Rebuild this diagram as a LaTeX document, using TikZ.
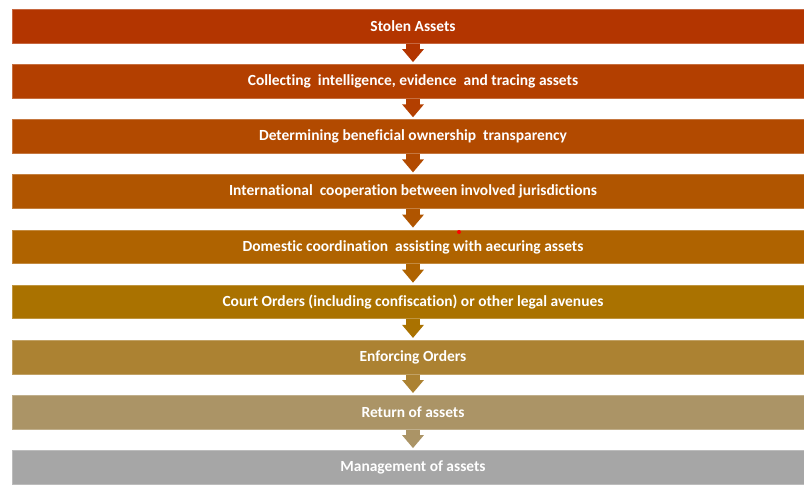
\documentclass[tikz,border=0pt]{standalone}
\usepackage{fontspec}
\setmainfont{Carlito}[Ligatures=NoCommon]
\usetikzlibrary{arrows.meta}
\definecolor{stufeA}{HTML}{B33500}
\definecolor{stufeB}{HTML}{B33F00}
\definecolor{stufeC}{HTML}{B24A00}
\definecolor{stufeD}{HTML}{B05500}
\definecolor{stufeE}{HTML}{AF6300}
\definecolor{stufeF}{HTML}{AA7200}
\definecolor{stufeG}{HTML}{AC8232}
\definecolor{stufeH}{HTML}{AB9466}
\definecolor{stufeI}{HTML}{A6A6A6}
\tikzset{
	balken/.style={fill=#1, draw=#1!75!white, line width=0.6pt, minimum width=16.04cm, minimum height=0.674cm, inner sep=0pt, text=white, font=\fontsize{8.8}{10}\selectfont\bfseries},
	pfeil/.style={draw=#1, line width=0.28cm, -{Triangle[width=0.42cm,length=0.26cm]}, shorten >=0.04cm}
}
\begin{document}
\begin{tikzpicture}[x=0.02cm,y=-0.02cm]
		\useasboundingbox (0,0) rectangle (804,486);
		\clip (0,0) rectangle (804,486);
		% Balken
		\node[balken=stufeA] (stolen) at (413,26.3) {Stolen Assets};
		\node[balken=stufeB] (intel) at (413,81.5) {Collecting\ \ intelligence,\ evidence\ \ and\ tracing\ assets};
		\node[balken=stufeC] (owner) at (413,136.7) {Determining\ beneficial\ ownership\ \ transparency};
		\node[balken=stufeD] (coop) at (413,191.8) {International\ \ cooperation\ between\ involved\ jurisdictions};
		\node[balken=stufeE] (domestic) at (413,247) {Domestic coordination\ \ assisting with aecuring\ assets};
		\node[balken=stufeF] (court) at (413,302.1) {Court Orders (including confiscation) or other\ legal avenues};
		\node[balken=stufeG] (enforce) at (413,357.3) {Enforcing\ Orders};
		\node[balken=stufeH] (return) at (413,412.4) {Return of assets};
		\node[balken=stufeI] (manage) at (413,467.5) {Management\ of assets};
		% Pfeile
		\draw[pfeil=stufeA] (stolen.south) -- (intel.north);
		\draw[pfeil=stufeB] (intel.south) -- (owner.north);
		\draw[pfeil=stufeC] (owner.south) -- (coop.north);
		\draw[pfeil=stufeD] (coop.south) -- (domestic.north);
		\draw[pfeil=stufeE] (domestic.south) -- (court.north);
		\draw[pfeil=stufeF] (court.south) -- (enforce.north);
		\draw[pfeil=stufeG] (enforce.south) -- (return.north);
		\draw[pfeil=stufeH] (return.south) -- (manage.north);
		% Punkt
		\fill[red] (459,232) circle (2);
	\end{tikzpicture}
\end{document}
